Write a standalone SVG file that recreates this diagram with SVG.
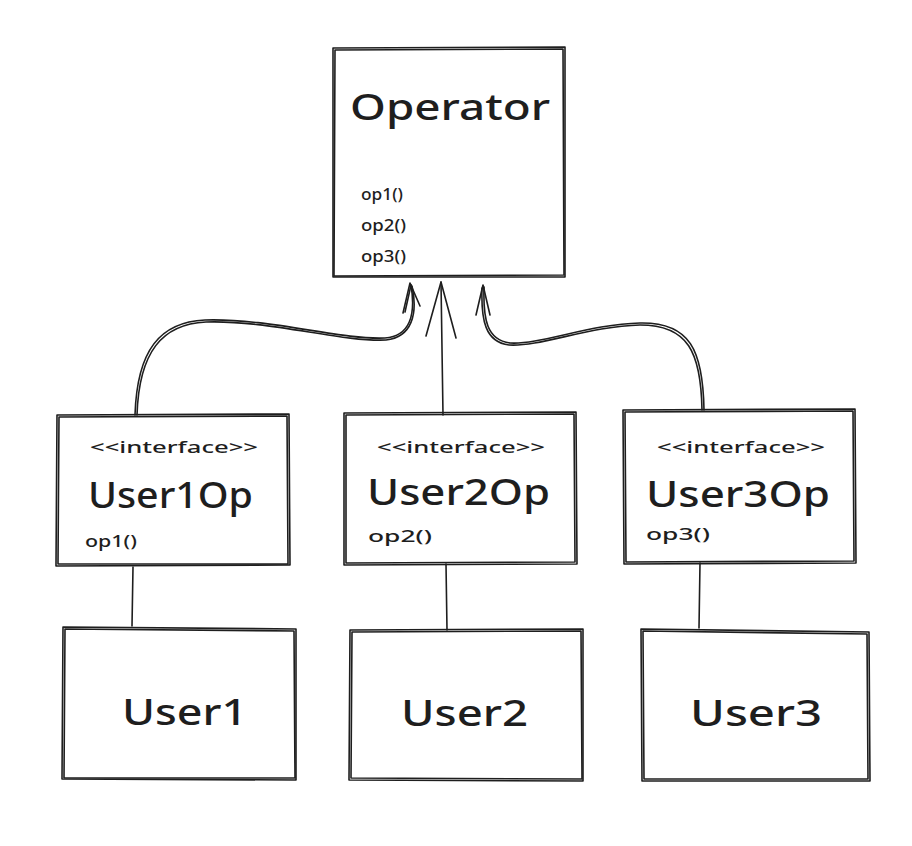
<svg xmlns="http://www.w3.org/2000/svg" width="912" height="846" viewBox="0 0 912 846">
<style>
.s{fill:none;stroke:#1e1e1e;stroke-width:1.6;stroke-linecap:round;stroke-linejoin:round}
.t{font-family:"Noto Sans","Liberation Sans",sans-serif;fill:#1e1e1e}
.big{font-size:37px;font-weight:500}
.mid{font-size:17px;font-weight:500}
.sm{font-size:17px;font-weight:500}
</style>
<rect width="912" height="846" fill="#ffffff"/>
<g id="connectors">
  <path class="s" d="M135 415 C137 350 160 322 205 320 C270 318 340 340 385 338 C410 336 416 315 411 285"/>
  <path class="s" d="M137 415 C139 352 162 324 206 322 C270 320 340 342 386 340 C412 337 418 314 412 286"/>
  <path class="s" d="M403 313 L410 283 L420 306"/>
  <path class="s" d="M405 312 L411 285"/>
  <path class="s" d="M443 415 L441 282"/>
  <path class="s" d="M426 336 L441 282 L456 338"/>
  <path class="s" d="M704 410 C703 350 690 322 640 323 C590 324 540 345 510 343 C487 340 483 320 484 287"/>
  <path class="s" d="M702 410 C701 352 688 325 640 325 C590 326 540 347 509 345 C485 342 481 320 482 288"/>
  <path class="s" d="M476 315 L483 285 L490 315"/>
  <path class="s" d="M133 567 L132 626"/>
  <path class="s" d="M446 564 L447 630"/>
  <path class="s" d="M700 563 L699 628"/>
</g>
<g id="operator">
  <path class="s" d="M333 48 L565 47 L565 277 L333 277 Z"/>
  <path class="s" d="M335 50 L563 49 L564 275 L334 276 Z"/>
  <text class="t big" x="350" y="120" textLength="200" lengthAdjust="spacingAndGlyphs">Operator</text>
  <text class="t sm" x="361" y="200" textLength="42" lengthAdjust="spacingAndGlyphs">op1()</text>
  <text class="t sm" x="361" y="231" textLength="45" lengthAdjust="spacingAndGlyphs">op2()</text>
  <text class="t sm" x="361" y="262" textLength="45" lengthAdjust="spacingAndGlyphs">op3()</text>
</g>
<g id="user1op">
  <path class="s" d="M57 415 L289 414 L290 565 L56 566 Z"/>
  <path class="s" d="M59 417 L287 416 L288 564 L58 564 Z"/>
  <text class="t mid" x="90" y="453" textLength="168" lengthAdjust="spacingAndGlyphs">&lt;&lt;interface&gt;&gt;</text>
  <text class="t big" x="88" y="508" textLength="165" lengthAdjust="spacingAndGlyphs">User1Op</text>
  <text class="t sm" x="85" y="547" textLength="52" lengthAdjust="spacingAndGlyphs">op1()</text>
</g>
<g id="user2op">
  <path class="s" d="M344 413 L576 412 L577 564 L344 565 Z"/>
  <path class="s" d="M346 415 L574 414 L575 562 L346 563 Z"/>
  <text class="t mid" x="377" y="453" textLength="168" lengthAdjust="spacingAndGlyphs">&lt;&lt;interface&gt;&gt;</text>
  <text class="t big" x="367" y="505" textLength="183" lengthAdjust="spacingAndGlyphs">User2Op</text>
  <text class="t sm" x="368" y="542" textLength="64" lengthAdjust="spacingAndGlyphs">op2()</text>
</g>
<g id="user3op">
  <path class="s" d="M623 410 L855 409 L856 563 L624 564 Z"/>
  <path class="s" d="M625 412 L853 411 L854 561 L626 562 Z"/>
  <text class="t mid" x="657" y="453" textLength="168" lengthAdjust="spacingAndGlyphs">&lt;&lt;interface&gt;&gt;</text>
  <text class="t big" x="646" y="507" textLength="184" lengthAdjust="spacingAndGlyphs">User3Op</text>
  <text class="t sm" x="646" y="540" textLength="64" lengthAdjust="spacingAndGlyphs">op3()</text>
</g>
<g id="user1">
  <path class="s" d="M63 627 L296 629 L296 780 L62 779 Z"/>
  <path class="s" d="M65 629 L294 631 L295 778 L64 778 Z"/>
  <text class="t big" x="122" y="725" textLength="125" lengthAdjust="spacingAndGlyphs">User1</text>
</g>
<g id="user2">
  <path class="s" d="M350 630 L583 629 L583 781 L349 780 Z"/>
  <path class="s" d="M352 632 L581 631 L582 779 L351 778 Z"/>
  <text class="t big" x="401" y="726" textLength="127" lengthAdjust="spacingAndGlyphs">User2</text>
</g>
<g id="user3">
  <path class="s" d="M641 629 L869 632 L870 781 L642 781 Z"/>
  <path class="s" d="M643 631 L867 634 L868 779 L644 779 Z"/>
  <text class="t big" x="690" y="726" textLength="132" lengthAdjust="spacingAndGlyphs">User3</text>
</g>
</svg>
